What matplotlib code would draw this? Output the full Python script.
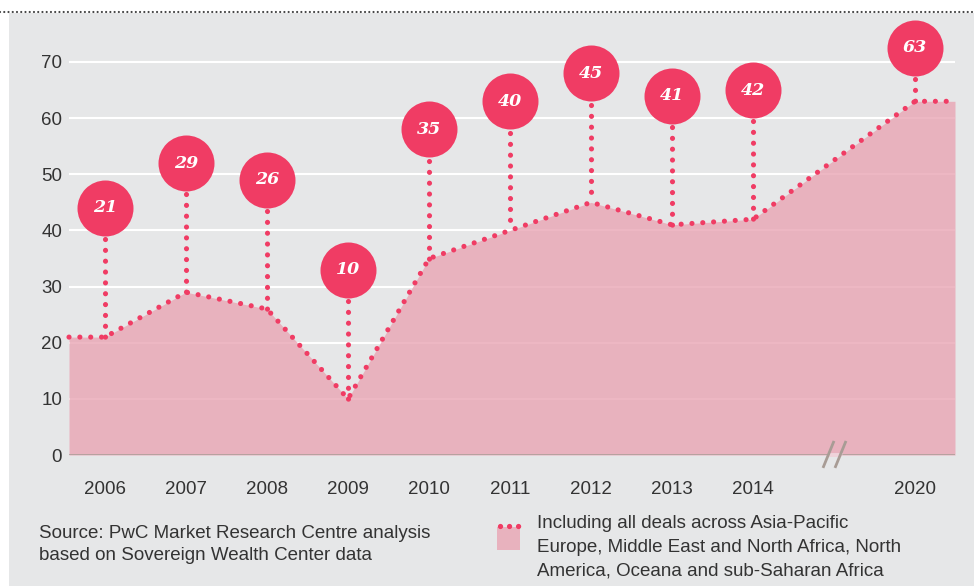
import numpy as np
import matplotlib
matplotlib.use("Agg")
import matplotlib.pyplot as plt
from matplotlib.patches import Rectangle, Polygon
from matplotlib.lines import Line2D

# deals per year
years = ["2006", "2007", "2008", "2009", "2010", "2011", "2012", "2013", "2014", "2020"]
deals = [21, 29, 26, 10, 35, 40, 45, 41, 42, 63]
yticks = [0, 10, 20, 30, 40, 50, 60, 70]

source_text = "Source: PwC Market Research Centre analysis\nbased on Sovereign Wealth Center data"
legend_text = ("Including all deals across Asia-Pacific\n"
               "Europe, Middle East and North Africa, North\n"
               "America, Oceana and sub-Saharan Africa")

RED = "#f03c64"
FILL = "#e9a5b4"
BG = "#e6e7e8"
TEXT = "#333333"
W, H = 974, 586


def fx(px):
    return px / W


def fy(py):
    # pixel rows are counted from the top
    return 1 - py / H


def main():
    plt.rcParams['font.family'] = ['Liberation Sans', 'DejaVu Sans']
    fig = plt.figure(figsize=(W / 100, H / 100), dpi=100)
    fig.patch.set_facecolor("white")

    # grey panel and dotted rule at the top
    fig.patches.append(Rectangle((fx(9), 0), fx(W - 9), fy(13), transform=fig.transFigure,
                                 facecolor=BG, edgecolor="none", zorder=-5))
    fig.lines.append(Line2D([0, 1], [fy(12), fy(12)], transform=fig.transFigure,
                            color="#444444", lw=1.6, linestyle=(0, (0.01, 1.9)),
                            dash_capstyle="round", zorder=-4))

    ax = fig.add_axes([fx(69), fy(455), fx(955 - 69), (455 - 34) / H])
    ax.set_facecolor("none")
    px_per_unit = 393 / 70
    ax.set_ylim(0, 421 / px_per_unit)
    ax.set_xlim(-36 / 81, 850 / 81)

    xs = np.arange(len(years), dtype=float)
    xs[-1] += 1  # one empty slot for the axis break
    x0, x1 = ax.get_xlim()
    line_x = np.concatenate([[x0], xs, [x1]])
    line_y = np.concatenate([[deals[0]], deals, [deals[-1]]])

    for y in yticks[1:]:
        ax.axhline(y, color="white", lw=1.5, zorder=0.5)
    ax.fill_between(line_x, line_y, 0, color=FILL, alpha=0.8, lw=0, zorder=1)
    ax.axhline(0, color="#a89c95", lw=1.8, zorder=3)

    dots = dict(color=RED, lw=3.7, linestyle=(0, (0.01, 2.1)), dash_capstyle="round", clip_on=False)
    ax.plot(line_x, line_y, zorder=4, **dots)

    # bubbles with stems
    r = 28 / px_per_unit
    for x, v in zip(xs, deals):
        cy = min(v + 23, 72.5)
        ax.plot([x, x], [cy - r - 0.6, v], zorder=4, **dots)
        ax.scatter([x], [cy], s=(56 * 0.72) ** 2, color=RED, zorder=5, clip_on=False, lw=0)
        ax.text(x, cy, str(v), color="white", fontsize=12.5, fontweight="bold", fontstyle="italic",
                family=["DejaVu Serif"], ha="center", va="center", zorder=6)

    # axis break marks
    bx = 9.0
    ax.add_patch(Polygon([(bx - 0.08, -0.35), (bx - 0.06, 0.35), (bx + 0.11, 0.35), (bx + 0.09, -0.35)],
                         closed=True, facecolor="#efd3da", edgecolor="none", zorder=3.5, clip_on=False))
    for dx in (0.0, 0.148):
        ax.plot([bx - 0.136 + dx, bx + dx], [-2.3, 2.5], color="#a89c95", lw=2,
                zorder=3.6, clip_on=False, solid_capstyle="butt")

    ax.set_yticks(yticks)
    ax.set_xticks(xs)
    ax.set_xticklabels(years)
    ax.tick_params(axis="y", length=0, pad=5, labelsize=13.5, labelcolor=TEXT)
    ax.tick_params(axis="x", length=0, pad=19, labelsize=13.5, labelcolor=TEXT)
    for s in ax.spines.values():
        s.set_visible(False)

    fig.text(fx(39), fy(525), source_text, fontsize=13.5, color=TEXT, va="top", ha="left",
             linespacing=1.35)

    # legend swatch
    fig.patches.append(Rectangle((fx(497), fy(550)), fx(23), 23 / H, transform=fig.transFigure,
                                 facecolor=FILL, alpha=0.8, edgecolor="none"))
    fig.lines.append(Line2D([fx(500), fx(520)], [fy(526), fy(526)], transform=fig.transFigure,
                            color=RED, lw=3.8, linestyle=(0, (0.01, 1.7)), dash_capstyle="round"))
    fig.text(fx(537), fy(515), legend_text, fontsize=13.5, color=TEXT, va="top", ha="left",
             linespacing=1.5)

    fig.savefig("out.png", dpi=100, facecolor=fig.get_facecolor())


if __name__ == "__main__":
    main()
